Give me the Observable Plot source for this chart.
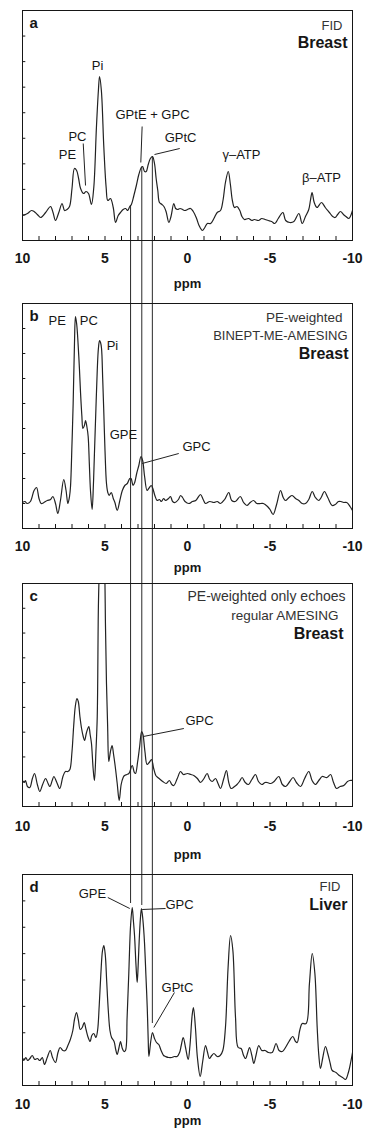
<!DOCTYPE html>
<html><head><meta charset="utf-8">
<script src="https://cdn.jsdelivr.net/npm/d3@7"></script>
<script src="https://cdn.jsdelivr.net/npm/@observablehq/plot@0.6"></script>
<style>
html,body{margin:0;padding:0;background:#fff;}
#chart svg{display:block;overflow:hidden;}
</style></head><body><div id="chart"></div>
<script>
// ---------- DATA ----------
const xTickLabels = [10, 5, 0, -5, -10];
const minorTicks = [10,9,8,7,6,5,4,3,2,1,0,-1,-2,-3,-4,-5,-6,-7,-8,-9,-10];
const connectorPpm = [3.45, 2.77, 2.13];
const connectorEndD = [182, 180, 62];

// spectra: [ppm, intensity]
const specA = [[10,25],[9.7,27],[9.45,30],[9.3,29],[9.1,26],[8.9,23],[8.6,28],[8.3,34],[8.15,28],[8.0,20],[7.8,28],[7.6,37],[7.45,30],[7.3,31],[7.15,34],[7.0,52],[6.85,72],[6.72,70],[6.6,62],[6.48,52],[6.3,47],[6.15,49],[6.0,47],[5.82,36],[5.68,53],[5.52,113],[5.4,150],[5.33,164],[5.22,150],[5.07,93],[4.93,53],[4.83,40],[4.67,42],[4.5,33],[4.36,18],[4.2,25],[4.06,28],[3.9,31],[3.75,32],[3.62,30],[3.5,34],[3.4,36],[3.25,45],[3.1,55],[2.95,66],[2.8,73],[2.72,74],[2.6,69],[2.5,69],[2.38,76],[2.25,82],[2.12,84],[2.0,77],[1.9,62],[1.8,50],[1.7,38],[1.55,36],[1.43,34],[1.3,29],[1.13,18],[1.0,24],[0.83,37],[0.72,32],[0.6,31],[0.45,32],[0.3,31],[0.15,30],[0.0,31],[-0.18,32],[-0.35,29],[-0.55,22],[-0.7,15],[-0.9,10],[-1.05,13],[-1.2,17],[-1.4,17],[-1.6,22],[-1.8,28],[-2.0,30],[-2.15,40],[-2.3,58],[-2.47,69],[-2.6,56],[-2.72,40],[-2.85,33],[-3.0,34],[-3.17,30],[-3.3,24],[-3.45,21],[-3.7,22],[-3.9,20],[-4.05,21],[-4.3,20],[-4.5,22],[-4.7,21],[-4.9,20],[-5.1,19],[-5.29,17],[-5.5,22],[-5.78,28],[-5.95,20],[-6.2,18],[-6.45,19],[-6.75,27],[-6.95,17],[-7.15,24],[-7.35,31],[-7.45,40],[-7.55,48],[-7.68,38],[-7.85,33],[-8.12,38],[-8.35,33],[-8.6,28],[-8.8,24],[-8.95,23],[-9.1,26],[-9.27,29],[-9.45,26],[-9.6,24],[-9.78,22],[-10,30]];

const specB = [[10,26],[9.85,27],[9.72,25],[9.52,27],[9.3,38],[9.15,41],[9.0,30],[8.87,25],[8.7,26],[8.5,28],[8.3,29],[8.16,32],[8.0,25],[7.86,15],[7.7,28],[7.5,49],[7.36,38],[7.25,25],[7.15,32],[7.09,42],[7.0,85],[6.93,125],[6.85,185],[6.79,212],[6.72,205],[6.65,190],[6.55,160],[6.48,135],[6.4,112],[6.34,100],[6.25,103],[6.18,108],[6.1,102],[6.02,92],[5.95,65],[5.88,38],[5.78,19],[5.7,45],[5.64,75],[5.55,120],[5.47,158],[5.4,180],[5.33,188],[5.27,186],[5.21,180],[5.14,150],[5.07,115],[5.0,78],[4.91,45],[4.83,36],[4.75,33],[4.62,36],[4.5,30],[4.4,26],[4.26,18],[4.1,28],[3.95,38],[3.8,43],[3.65,45],[3.5,50],[3.42,50],[3.3,43],[3.2,46],[3.08,55],[2.95,63],[2.82,72],[2.72,68],[2.6,52],[2.45,38],[2.35,40],[2.2,43],[2.1,40],[1.98,33],[1.84,28],[1.7,29],[1.58,27],[1.45,30],[1.33,28],[1.15,30],[1.03,32],[0.9,27],[0.75,26],[0.55,29],[0.42,33],[0.3,31],[0.15,27],[-0.08,25],[-0.3,27],[-0.5,28],[-0.79,34],[-0.95,29],[-1.09,25],[-1.35,27],[-1.6,26],[-1.8,27],[-2.0,25],[-2.25,29],[-2.5,36],[-2.68,28],[-2.9,27],[-3.2,32],[-3.4,26],[-3.6,23],[-3.8,26],[-4.0,28],[-4.2,25],[-4.45,25],[-4.6,25],[-4.85,22],[-5.0,19],[-5.19,14],[-5.4,24],[-5.64,38],[-5.8,31],[-5.94,28],[-6.15,31],[-6.34,33],[-6.55,30],[-6.75,28],[-6.95,25],[-7.15,25],[-7.35,29],[-7.56,37],[-7.75,31],[-7.95,28],[-8.1,31],[-8.3,37],[-8.5,31],[-8.77,23],[-8.95,24],[-9.15,27],[-9.3,27],[-9.47,26],[-9.65,26],[-9.85,22],[-10,18]];

const specC = [[10,26],[9.9,24],[9.82,26],[9.7,20],[9.56,19],[9.4,28],[9.27,33],[9.1,22],[8.95,15],[8.78,22],[8.6,28],[8.45,23],[8.34,20],[8.2,26],[8.1,30],[7.92,24],[7.74,18],[7.55,30],[7.4,35],[7.25,35],[7.13,37],[7.0,55],[6.9,80],[6.8,100],[6.7,108],[6.62,105],[6.52,90],[6.42,78],[6.32,70],[6.24,66],[6.12,74],[5.98,80],[5.9,72],[5.82,63],[5.72,38],[5.64,26],[5.55,55],[5.47,90],[5.4,200],[5.33,245],[5.18,300],[5.03,245],[4.97,180],[4.91,123],[4.84,80],[4.77,45],[4.67,55],[4.57,61],[4.48,52],[4.38,40],[4.26,23],[4.14,6],[4.02,22],[3.9,29],[3.82,31],[3.68,32],[3.55,33],[3.35,41],[3.22,34],[3.15,33],[3.02,45],[2.9,60],[2.78,75],[2.7,72],[2.58,55],[2.45,42],[2.32,44],[2.18,47],[2.05,38],[1.92,31],[1.8,29],[1.65,27],[1.5,25],[1.29,23],[1.1,26],[0.95,22],[0.83,21],[0.62,28],[0.42,35],[0.25,32],[0.0,33],[-0.2,32],[-0.38,31],[-0.6,28],[-0.79,24],[-1.0,28],[-1.19,33],[-1.35,27],[-1.5,25],[-1.7,28],[-1.85,23],[-2.0,18],[-2.2,28],[-2.36,36],[-2.5,24],[-2.65,18],[-2.85,20],[-3.0,22],[-3.15,25],[-3.31,29],[-3.5,24],[-3.7,22],[-3.9,27],[-4.12,32],[-4.3,25],[-4.5,22],[-4.7,24],[-4.83,24],[-5.05,23],[-5.25,25],[-5.53,30],[-5.75,22],[-5.95,20],[-6.2,25],[-6.4,29],[-6.6,24],[-6.85,20],[-7.1,28],[-7.35,35],[-7.55,26],[-7.75,22],[-8.0,27],[-8.16,30],[-8.45,29],[-8.67,32],[-8.85,24],[-9.03,18],[-9.25,20],[-9.47,21],[-9.7,25],[-9.84,26],[-10,26]];

const specD = [[10,27],[9.92,25],[9.8,28],[9.68,25],[9.55,27],[9.41,30],[9.25,26],[9.1,27],[8.95,25],[8.8,28],[8.67,21],[8.5,28],[8.32,35],[8.18,28],[8.0,23],[7.85,33],[7.72,38],[7.55,35],[7.4,35],[7.25,40],[7.1,46],[6.95,55],[6.85,66],[6.73,73],[6.62,66],[6.5,56],[6.38,58],[6.26,63],[6.15,56],[6.02,48],[5.9,44],[5.8,50],[5.68,52],[5.55,48],[5.45,55],[5.35,80],[5.25,112],[5.15,135],[5.07,140],[4.98,130],[4.9,105],[4.8,75],[4.7,55],[4.6,48],[4.45,44],[4.35,36],[4.26,31],[4.15,38],[4.06,44],[3.95,37],[3.85,34],[3.76,35],[3.66,68],[3.56,111],[3.45,160],[3.35,178],[3.28,165],[3.21,150],[3.12,120],[3.05,103],[2.99,120],[2.93,144],[2.85,168],[2.79,177],[2.7,165],[2.61,144],[2.52,110],[2.44,78],[2.38,45],[2.34,29],[2.22,45],[2.12,53],[2.0,47],[1.88,43],[1.74,41],[1.6,35],[1.45,30],[1.33,29],[1.15,28],[0.95,28],[0.8,29],[0.63,29],[0.48,33],[0.38,40],[0.26,48],[0.12,38],[-0.04,26],[-0.15,40],[-0.28,70],[-0.36,78],[-0.48,58],[-0.6,28],[-0.77,9],[-0.92,24],[-1.09,40],[-1.2,34],[-1.33,27],[-1.47,30],[-1.6,32],[-1.8,29],[-1.98,30],[-2.14,35],[-2.3,58],[-2.46,118],[-2.61,150],[-2.75,135],[-2.91,68],[-3.07,38],[-3.25,37],[-3.4,30],[-3.52,27],[-3.65,33],[-3.76,38],[-3.9,30],[-4.02,22],[-4.15,30],[-4.32,40],[-4.5,35],[-4.7,35],[-4.9,33],[-5.13,33],[-5.37,42],[-5.55,35],[-5.75,34],[-5.94,38],[-6.15,44],[-6.38,49],[-6.55,44],[-6.65,43],[-6.8,55],[-6.95,62],[-7.19,62],[-7.39,102],[-7.56,132],[-7.72,112],[-7.86,58],[-7.96,30],[-8.06,17],[-8.2,28],[-8.36,39],[-8.5,32],[-8.65,22],[-8.77,15],[-9.0,13],[-9.2,10],[-9.4,8],[-9.58,6],[-9.75,13],[-9.9,24],[-10,33]];

// peak labels: text, anchored at (ppm, intensity)
const labelsA = [{t:"Pi",x:5.45,y:175},{t:"PC",x:6.67,y:104},{t:"PE",x:7.27,y:86},{t:"GPtE + GPC",x:2.12,y:126},{t:"GPtC",x:0.42,y:103},{t:"γ–ATP",x:-3.27,y:86},{t:"β–ATP",x:-8.12,y:63}];
const labelsB = [{t:"PE",x:7.9,y:208},{t:"PC",x:5.98,y:208},{t:"Pi",x:4.55,y:183},{t:"GPE",x:3.88,y:94},{t:"GPC",x:-0.55,y:82}];
const labelsC = [{t:"GPC",x:-0.73,y:86}];
const labelsD = [{t:"GPE",x:5.76,y:192},{t:"GPC",x:0.48,y:181},{t:"GPtC",x:0.61,y:98}];

// label pointer segments (ppm, intensity)
const pointersA = [{x1:6.32,y1:97,x2:6.18,y2:55},{x1:2.75,y1:114,x2:2.83,y2:78},{x1:2.0,y1:86,x2:0.47,y2:92}];
const pointersB = [{x1:2.75,y1:65,x2:0.53,y2:75}];
const pointersC = [{x1:2.68,y1:70,x2:0.22,y2:78}];
const pointersD = [{x1:4.83,y1:188,x2:3.5,y2:177},{x1:2.75,y1:176,x2:1.33,y2:177},{x1:0.79,y1:93,x2:2.04,y2:58}];

const cornerA = ["FID", "Breast"];
const cornerB = ["PE-weighted", "BINEPT-ME-AMESING", "Breast"];
const cornerC = ["PE-weighted only echoes", "regular AMESING", "Breast"];
const cornerD = ["FID", "Liver"];

// ---------- LAYOUT ----------
const FONT = "'Liberation Sans', Arial, Helvetica, sans-serif";
const INK = "#161616";

function interp(spec, p) {
  for (let i = 0; i < spec.length - 1; i++) {
    const [p0, v0] = spec[i], [p1, v1] = spec[i + 1];
    if (p <= p0 && p >= p1) return v0 + (v1 - v0) * (p0 - p) / (p0 - p1);
  }
  return 0;
}

const panels = [
  {spec: specA, letter: "a", labels: labelsA, pointers: pointersA, corner: cornerA,
   cornerStyle: [{dx:-10,dy:15,size:13,bold:false},{dx:-5,dy:32,size:16,bold:true}],
   height: 301, mt: 10, mb: 61, div: 9, conn: "start", tickDy: 18, ppmDy: 43},
  {spec: specB, letter: "b", labels: labelsB, pointers: pointersB, corner: cornerB,
   cornerStyle: [{dx:-10,dy:14,size:13.5,bold:false},{dx:-5,dy:32,size:13,bold:false},{dx:-4,dy:50,size:16,bold:true}],
   height: 280, mt: 2, mb: 53, div: 9, conn: "through", tickDy: 18, ppmDy: 39},
  {spec: specC, letter: "c", labels: labelsC, pointers: pointersC, corner: cornerC,
   cornerStyle: [{dx:-7,dy:13,size:14,bold:false},{dx:-14,dy:32,size:13.5,bold:false},{dx:-9,dy:50,size:16,bold:true}],
   height: 291, mt: 2, mb: 66, div: 9, conn: "through", tickDy: 20, ppmDy: 48},
  {spec: specD, letter: "d", labels: labelsD, pointers: pointersD, corner: cornerD,
   cornerStyle: [{dx:-12,dy:12,size:13,bold:false},{dx:-5,dy:30,size:16,bold:true}],
   height: 257, mt: 2, mb: 44, div: 8, conn: "end", tickDy: 19, ppmDy: 35}
];

const root = document.getElementById("chart");
for (const P of panels) {
  const H = P.height - P.mt - P.mb;
  const yTicks = d3.range(1, P.div).map(k => k * H / P.div);
  let connector;
  if (P.conn === "start") {
    connector = Plot.ruleX(connectorPpm, {x: d => d, y1: d => interp(P.spec, d), y2: -400, stroke: "#2a2a2a", strokeWidth: 1});
  } else if (P.conn === "through") {
    connector = Plot.ruleX(connectorPpm, {x: d => d, y1: H + 400, y2: -400, stroke: "#2a2a2a", strokeWidth: 1});
  } else {
    connector = Plot.ruleX(connectorPpm, {x: d => d, y1: H + 400, y2: (d, i) => connectorEndD[i], stroke: "#2a2a2a", strokeWidth: 1});
  }
  const marks = [
    connector,
    Plot.ruleX(minorTicks, {x: d => d, y1: 0, y2: 4, stroke: INK}),
    Plot.ruleY(yTicks, {y: d => d, x1: 10, x2: 9.8, stroke: INK}),
    Plot.line(P.spec, {x: d => d[0], y: d => d[1], stroke: "#222", strokeWidth: 1.2, curve: "catmull-rom", clip: true}),
    Plot.frame({stroke: INK, strokeWidth: 1}),
    Plot.link(P.pointers, {x1: "x1", y1: "y1", x2: "x2", y2: "y2", stroke: "#222", strokeWidth: 1}),
    Plot.text(P.labels, {x: "x", y: "y", text: "t", fontSize: 13, fill: INK}),
    Plot.text([P.letter], {frameAnchor: "top-left", textAnchor: "start", lineAnchor: "middle", dx: 7, dy: 13, fontSize: 15, fontWeight: "bold", fill: INK}),
    ...P.corner.map((t, i) => Plot.text([t], {frameAnchor: "top-right", textAnchor: "end", lineAnchor: "middle",
        dx: P.cornerStyle[i].dx, dy: P.cornerStyle[i].dy, fontSize: P.cornerStyle[i].size,
        fontWeight: P.cornerStyle[i].bold ? "bold" : "normal", fill: P.cornerStyle[i].bold ? INK : "#333"})),
    Plot.text(xTickLabels, {x: d => d, frameAnchor: "bottom", lineAnchor: "middle", dy: P.tickDy, text: d => String(d), fontSize: 14, fontWeight: "bold", fill: INK}),
    Plot.text(["ppm"], {x: d => 0, frameAnchor: "bottom", lineAnchor: "middle", dy: P.ppmDy, fontSize: 13, fontWeight: "bold", fill: INK})
  ];
  const svg = Plot.plot({
    width: 377, height: P.height,
    marginLeft: 22, marginRight: 25, marginTop: P.mt, marginBottom: P.mb,
    x: {domain: [10, -10], axis: null},
    y: {domain: [0, H], axis: null},
    style: {fontFamily: FONT, overflow: "hidden", background: "white"},
    marks
  });
  root.appendChild(svg);
}
</script></body></html>
